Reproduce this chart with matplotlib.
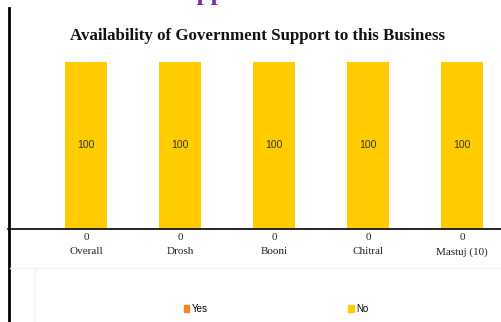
import matplotlib
matplotlib.use("Agg")
import matplotlib.pyplot as plt
from matplotlib.lines import Line2D
from matplotlib.patches import Patch
import numpy as np

# ------------ DATA ------------
categories = ["Overall", "Drosh", "Booni", "Chitral", "Mastuj (10)"]
yes_values = [0, 0, 0, 0, 0]
no_values = [100, 100, 100, 100, 100]

yes_color = "#F58426"
no_color = "#FFCC00"

W, H = 502, 322
fig = plt.figure(figsize=(W / 100, H / 100), dpi=100)

def px(x0, y0, x1, y1):
    # pixel box -> figure fraction rect
    return [x0 / W, 1 - y1 / H, (x1 - x0) / W, (y1 - y0) / H]

ax = fig.add_axes(px(8, 62, 502, 229))
x = np.arange(len(categories))
bar_w = 42 / 94

ax.bar(x, yes_values, width=bar_w, color=yes_color)
bars = ax.bar(x, no_values, width=bar_w, bottom=yes_values, color=no_color)

ax.bar_label(bars, labels=[str(v) for v in no_values], label_type="center",
             fontsize=7.5, color="#333333", family="Liberation Sans")
for xi, v in zip(x, yes_values):
    ax.annotate(str(v), xy=(xi, 0), xytext=(0, -6.3), textcoords="offset points",
                ha="center", va="center", fontsize=8, family="Liberation Serif",
                color="#222222", annotation_clip=False)

ax.set_xlim((8 - 86) / 94, (502 - 86) / 94)
ax.set_ylim(0, 100)
ax.set_xticks(x)
ax.set_xticklabels(categories, fontsize=8, family="Liberation Serif", color="#222222")
ax.tick_params(axis="x", length=0, pad=13)
ax.set_yticks([])
for s in ["top", "right", "left"]:
    ax.spines[s].set_visible(False)
ax.spines["bottom"].set_linewidth(1.2)
ax.spines["bottom"].set_color("black")

# chart title
fig.text(258 / W, 1 - 36 / H, "Availability of Government Support to this Business",
         ha="center", va="center", fontsize=12.2, fontweight="bold",
         family="Liberation Serif", color="#111111")

# section heading cut by the top edge
fig.text(28 / W, 1.0, "Government Support", ha="left", va="baseline",
         fontsize=18, fontweight="bold", family="Liberation Serif", color="#7030A0")

# page border on the left
fig.add_artist(Line2D([9 / W, 9 / W], [0, 1 - 8 / H], color="black", linewidth=2))

# faint frame below the chart
fig.add_artist(Line2D([10 / W, 1], [1 - 268 / H, 1 - 268 / H], color="#F6F3EC", linewidth=1))
fig.add_artist(Line2D([35 / W, 35 / W], [0, 1 - 269 / H], color="#F4F4F4", linewidth=1))

handles = [Patch(color=yes_color, label="Yes"), Patch(color=no_color, label="No")]
fig.legend(handles=handles, loc="center", bbox_to_anchor=(276 / W, 1 - 309 / H),
           ncol=2, frameon=False, handlelength=0.6, handleheight=0.6,
           handletextpad=0.2, columnspacing=14.5, prop={"family": "Liberation Sans", "size": 7})

fig.savefig("out.png", dpi=100)
